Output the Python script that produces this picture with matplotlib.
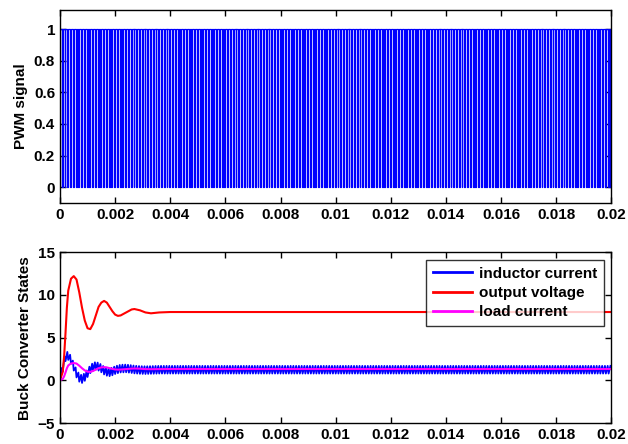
import numpy as np
import matplotlib
matplotlib.use("Agg")
import matplotlib.pyplot as plt

plt.rcParams['font.family'] = ['Liberation Sans', 'DejaVu Sans']
plt.rcParams['font.weight'] = 'bold'
plt.rcParams['font.size'] = 11

# PWM settings
pwm_period = 1e-4      # s
pwm_duty = 0.67
t_end = 0.02

# buck converter states
t_state = [0, 0.0001, 0.00015, 0.0002, 0.00025, 0.0003, 0.0004, 0.0005, 0.0006,
           0.0007, 0.0008, 0.0009, 0.001, 0.0011, 0.0012, 0.0013, 0.0014, 0.0015,
           0.0016, 0.0017, 0.0018, 0.0019, 0.002, 0.0021, 0.0022, 0.0024, 0.0026,
           0.0027, 0.0029, 0.0031, 0.0033, 0.0036, 0.004, 0.02]
output_voltage = [0, 1.0, 2.8, 5.5, 8.5, 10.5, 11.9, 12.2, 11.8, 10.3, 8.5, 7.0,
                  6.1, 6.0, 6.6, 7.6, 8.6, 9.1, 9.3, 9.1, 8.6, 8.1, 7.7, 7.55, 7.6,
                  7.95, 8.3, 8.35, 8.2, 7.95, 7.85, 7.95, 8.0, 8.0]
load_current = [0, 0.17, 0.47, 0.92, 1.42, 1.75, 1.98, 2.03, 1.97, 1.72, 1.42,
                1.17, 1.02, 1.0, 1.1, 1.27, 1.43, 1.52, 1.55, 1.52, 1.43, 1.35,
                1.28, 1.26, 1.27, 1.32, 1.38, 1.39, 1.37, 1.32, 1.31, 1.32, 1.33, 1.33]
inductor_mean = [0, 1.5, 2.2, 2.7, 2.9, 2.85, 2.4, 1.6, 0.8, 0.3, 0.15, 0.4, 0.85,
                 1.3, 1.6, 1.7, 1.6, 1.4, 1.15, 1.0, 0.95, 1.05, 1.2, 1.3, 1.38,
                 1.4, 1.32, 1.27, 1.22, 1.2, 1.22, 1.25, 1.25, 1.25]
inductor_ripple = 0.45   # half of the ripple band

xticks = [0, 0.002, 0.004, 0.006, 0.008, 0.01, 0.012, 0.014, 0.016, 0.018, 0.02]
xtick_labels = ['0', '0.002', '0.004', '0.006', '0.008', '0.01', '0.012',
                '0.014', '0.016', '0.018', '0.02']

# switching edges
on_edges = np.arange(0, t_end, pwm_period)
off_edges = on_edges + pwm_duty * pwm_period

pwm_t = np.column_stack([on_edges, on_edges, off_edges, off_edges]).ravel()
pwm_v = np.tile([0, 1, 1, 0], len(on_edges))

il_t = np.column_stack([on_edges, off_edges]).ravel()
il_v = np.column_stack([np.interp(on_edges, t_state, inductor_mean) - inductor_ripple,
                        np.interp(off_edges, t_state, inductor_mean) + inductor_ripple]).ravel()
il_v[0] = 0

fig = plt.figure(figsize=(6.28, 4.44), dpi=100)
ax1 = fig.add_axes([0.0955, 0.543, 0.878, 0.434])
ax2 = fig.add_axes([0.0955, 0.047, 0.878, 0.385])

ax1.plot(pwm_t, pwm_v, color='blue', linewidth=0.9)
ax1.set_xlim(0, 0.02)
ax1.set_ylim(-0.1, 1.12)
ax1.set_yticks([0, 0.2, 0.4, 0.6, 0.8, 1])
ax1.set_yticklabels(['0', '0.2', '0.4', '0.6', '0.8', '1'])
ax1.set_ylabel('PWM signal', fontweight='bold')

ax2.plot(il_t, il_v, color='blue', linewidth=1.3, label='inductor current')
ax2.plot(t_state, output_voltage, color='red', linewidth=1.5, label='output voltage')
ax2.plot(t_state, load_current, color='magenta', linewidth=1.5, label='load current')
ax2.set_xlim(0, 0.02)
ax2.set_ylim(-5, 15)
ax2.set_yticks([-5, 0, 5, 10, 15])
ax2.set_ylabel('Buck Converter States', fontweight='bold')
leg = ax2.legend(loc='upper right', fancybox=False, edgecolor='black',
                 handlelength=2.6, handletextpad=0.4, borderaxespad=0.5,
                 labelspacing=0.35, borderpad=0.45,
                 prop={'weight': 'bold', 'size': 11})
leg.get_frame().set_linewidth(1.0)
for line in leg.get_lines():
    line.set_linewidth(2)

for ax in (ax1, ax2):
    ax.set_xticks(xticks)
    ax.set_xticklabels(xtick_labels)
    ax.tick_params(direction='in', top=True, right=True, length=4, width=1,
                   labelsize=11)
    for s in ax.spines.values():
        s.set_linewidth(1.0)

fig.savefig('out.png', dpi=100)
